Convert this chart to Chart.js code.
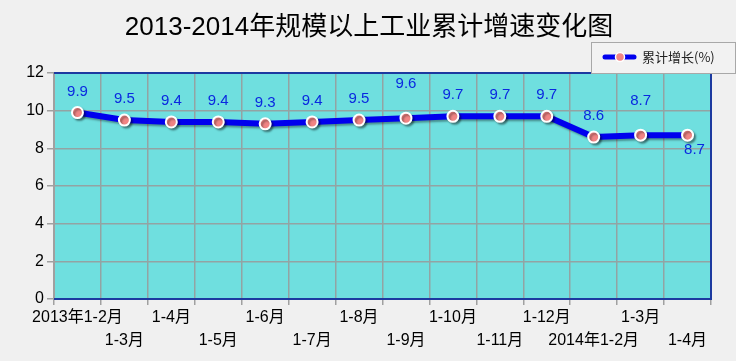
<!DOCTYPE html>
<html>
<head>
<meta charset="utf-8">
<script src="https://cdn.jsdelivr.net/npm/chart.js@4.4.0/dist/chart.umd.min.js"></script>
<style>
    html, body { margin: 0; padding: 0; background: #f0f0f0; }
    #wrap { width: 736px; height: 361px; position: relative; }
</style>
</head>
<body>
<div id="wrap"><canvas id="growthChart"></canvas></div>
<script>
const titleText = "2013-2014年规模以上工业累计增速变化图";
const seriesName = "累计增长(%)";
const categories = [
    "2013年1-2月", "1-3月", "1-4月", "1-5月", "1-6月", "1-7月", "1-8月",
    "1-9月", "1-10月", "1-11月", "1-12月", "2014年1-2月", "1-3月", "1-4月"
];
const growthValues = [9.9, 9.5, 9.4, 9.4, 9.3, 9.4, 9.5, 9.6, 9.7, 9.7, 9.7, 8.6, 8.7, 8.7];
const yTicks = [0, 2, 4, 6, 8, 10, 12];
// where each value label sits relative to its point
const labelPlace = ["up", "up", "up", "up", "up", "up", "up", "high", "up", "up", "up", "up", "high", "down"];

const lineBlue = "#0000ee";
const pointPink = "#f08484";
const plotBg = "#6fdfdf";
const frameBlue = "#1c3aa0";
const gridGray = "#93a3a3";

const plotPlugin = {
    id: "plotDecor",
    beforeDraw: function (chart) {
        const a = chart.chartArea;
        const ctx = chart.ctx;
        ctx.save();
        ctx.fillStyle = "#f0f0f0";
        ctx.fillRect(0, 0, chart.width, chart.height);
        ctx.fillStyle = plotBg;
        ctx.fillRect(a.left, a.top, a.right - a.left, a.bottom - a.top);
        ctx.restore();
    },
    beforeDatasetDraw: function (chart) {
        const ctx = chart.ctx;
        ctx.save();
        ctx.shadowColor = "rgba(0, 0, 0, 0.35)";
        ctx.shadowOffsetX = 2;
        ctx.shadowOffsetY = 2;
        ctx.shadowBlur = 2;
    },
    afterDatasetDraw: function (chart) {
        chart.ctx.restore();
    },
    afterDraw: function (chart) {
        const a = chart.chartArea;
        const ctx = chart.ctx;
        ctx.save();
        // frame on top, right and bottom
        ctx.strokeStyle = frameBlue;
        ctx.lineWidth = 2;
        ctx.beginPath();
        ctx.moveTo(a.left, a.top);
        ctx.lineTo(a.right, a.top);
        ctx.lineTo(a.right, a.bottom);
        ctx.lineTo(a.left, a.bottom);
        ctx.stroke();

        // title
        ctx.fillStyle = "#000000";
        ctx.font = "26px 'Liberation Sans', 'Noto Sans CJK SC', sans-serif";
        ctx.textAlign = "center";
        ctx.textBaseline = "middle";
        ctx.fillText(titleText, 369, 28);

        // value labels
        const meta = chart.getDatasetMeta(0);
        ctx.fillStyle = "#0a28e0";
        ctx.font = "15px 'Liberation Sans', Arial, sans-serif";
        ctx.textAlign = "center";
        meta.data.forEach(function (pt, i) {
            let dx = 0;
            let dy = -21;
            if (labelPlace[i] === "high") dy = -34;
            if (labelPlace[i] === "down") { dy = 15; dx = 7; }
            ctx.fillText(growthValues[i].toFixed(1), pt.x + dx, pt.y + dy);
        });

        // legend box
        const lx = 591, ly = 42, lw = 144, lh = 31;
        ctx.fillStyle = "#f2f2f2";
        ctx.fillRect(lx, ly, lw, lh);
        ctx.strokeStyle = "#a8a8a8";
        ctx.lineWidth = 1;
        ctx.strokeRect(lx + 0.5, ly + 0.5, lw, lh);
        ctx.strokeStyle = lineBlue;
        ctx.lineWidth = 5;
        ctx.lineCap = "round";
        ctx.beginPath();
        ctx.moveTo(lx + 14, ly + 15);
        ctx.lineTo(lx + 43, ly + 15);
        ctx.stroke();
        ctx.beginPath();
        ctx.arc(lx + 29, ly + 15, 4.5, 0, Math.PI * 2);
        ctx.fillStyle = pointPink;
        ctx.fill();
        ctx.strokeStyle = "#ffffff";
        ctx.lineWidth = 1.5;
        ctx.stroke();
        ctx.fillStyle = "#222222";
        ctx.font = "13px 'Noto Sans CJK SC', sans-serif";
        ctx.textAlign = "left";
        ctx.fillText(seriesName, lx + 51, ly + 15);
        ctx.restore();
    },
};

const ctx = document.getElementById("growthChart").getContext("2d");
new Chart(ctx, {
    type: "line",
    data: {
        labels: categories,
        datasets: [
            {
                label: seriesName,
                data: growthValues,
                borderColor: lineBlue,
                borderWidth: 6,
                tension: 0,
                pointRadius: 5.5,
                pointBackgroundColor: pointPink,
                pointBorderColor: "#ffffff",
                pointBorderWidth: 2,
                fill: false,
            },
        ],
    },
    options: {
        responsive: true,
        maintainAspectRatio: false,
        animation: false,
        layout: {
            padding: { top: 73, right: 25, left: 0, bottom: 0 },
        },
        plugins: {
            legend: { display: false },
            title: { display: false },
            tooltip: { enabled: false },
        },
        scales: {
            x: {
                type: "category",
                offset: true,
                afterFit: function (scale) {
                    scale.height = 62;
                },
                grid: {
                    offset: true,
                    color: gridGray,
                    lineWidth: 1.5,
                    drawTicks: true,
                    tickLength: 6,
                    tickColor: "#a0a0a0",
                },
                border: { display: false },
                ticks: {
                    autoSkip: false,
                    maxRotation: 0,
                    minRotation: 0,
                    padding: 1,
                    color: "#000000",
                    font: { size: 16, family: "'Liberation Sans', 'Noto Sans CJK SC', sans-serif", lineHeight: 1.45 },
                    callback: function (value, index) {
                        const text = categories[index];
                        return index % 2 === 0 ? text : ["", text];
                    },
                },
            },
            y: {
                min: 0,
                max: 12,
                afterFit: function (scale) {
                    scale.width = 54;
                },
                afterBuildTicks: function (scale) {
                    scale.ticks = yTicks.map((v) => ({ value: v }));
                },
                grid: {
                    color: gridGray,
                    lineWidth: 1.5,
                    tickLength: 7,
                    tickColor: "#a0a0a0",
                },
                border: { color: "#a0a0a0", width: 2 },
                ticks: {
                    color: "#000000",
                    padding: 3,
                    font: { size: 16, family: "'Liberation Sans', Arial, sans-serif" },
                },
            },
        },
    },
    plugins: [plotPlugin],
});
</script>
</body>
</html>
